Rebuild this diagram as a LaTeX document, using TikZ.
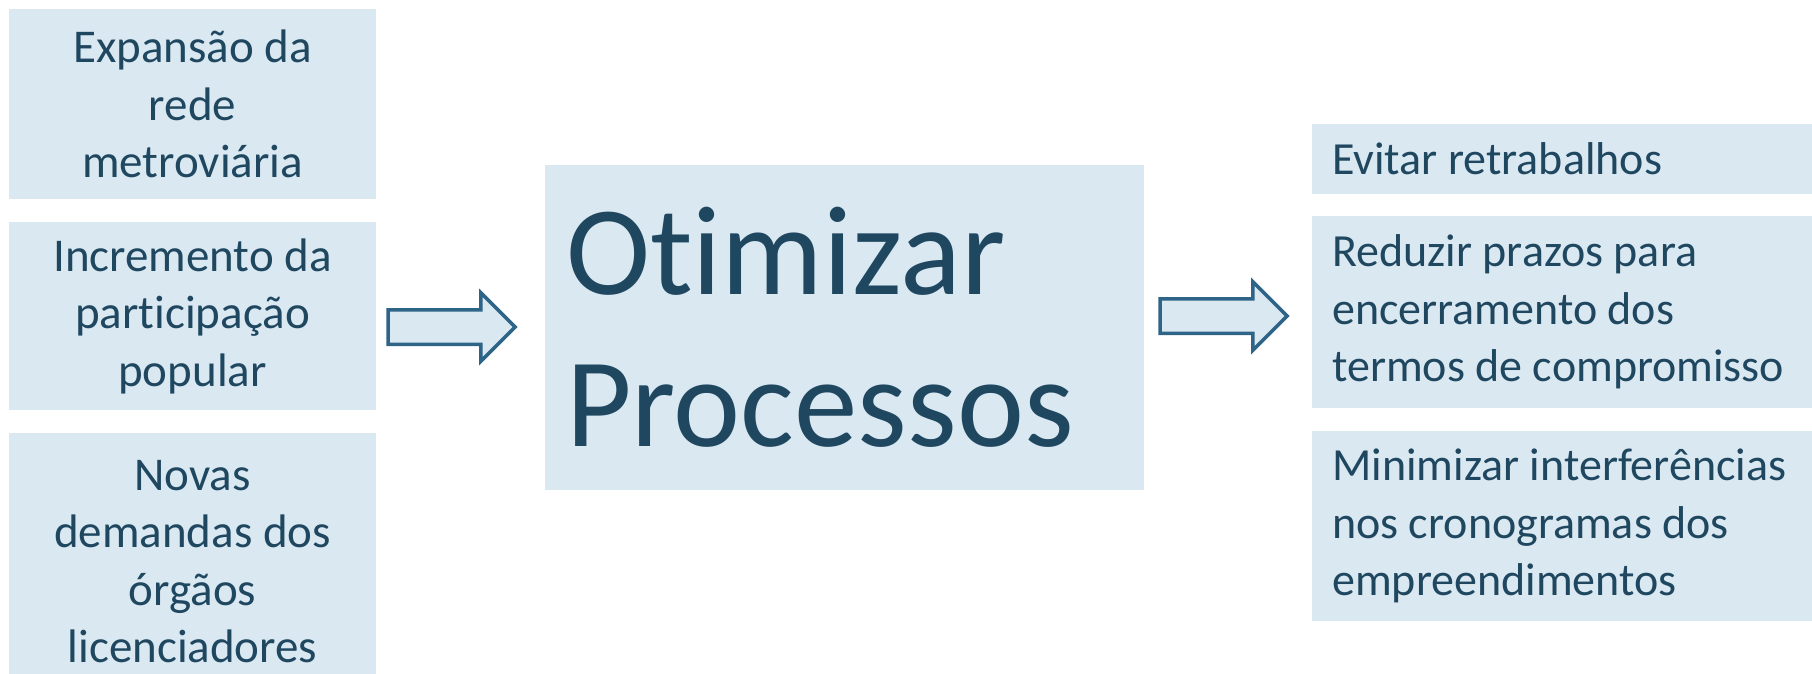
\documentclass[tikz,border=0pt]{standalone}
\usepackage{fontspec}
\setmainfont{Carlito}[Ligatures=NoCommon]
\usetikzlibrary{shapes.arrows}
\definecolor{boxfill}{RGB}{218,232,241}
\definecolor{boxtext}{RGB}{31,71,96}
\definecolor{arrowline}{RGB}{46,100,135}

\begin{document}
\begin{tikzpicture}[x=1pt,y=-1pt,
                cause node/.style={rectangle,fill=boxfill,text=boxtext,minimum width=367pt,align=center,inner sep=0pt,font=\fontsize{47}{57.5}\selectfont},
                main node/.style={rectangle,fill=boxfill,text=boxtext,minimum width=599pt,minimum height=325pt,text width=557pt,align=flush left,inner xsep=21pt,inner ysep=0pt,font=\fontsize{127}{152}\selectfont},
                goal node/.style={rectangle,fill=boxfill,text=boxtext,anchor=west,text width=490pt,align=flush left,inner xsep=20pt,inner ysep=0pt,font=\fontsize{46}{57.5}\selectfont},
                block arrow/.style={single arrow,draw=arrowline,line width=3.5pt,fill=boxfill,minimum height=127pt,single arrow head extend=17pt,inner xsep=0pt,inner ysep=15.5pt},
                ]
                \path[use as bounding box,clip] (0,0) rectangle (1812,674);
                \node[cause node, minimum height=190pt] (expansao) at (192.5,104) {Expansão da\\rede\\metroviária};
                \node[cause node, minimum height=188pt] (incremento) at (192.5,316) {Incremento da\\participação\\popular};
                \node[cause node, minimum height=257pt] (demandas) at (192.5,561.5) {Novas\\demandas dos\\órgãos\\licenciadores};

                \node[main node] (otimizar) at (844.5,327.5) {Otimizar\\Processos};

                \node[goal node, minimum height=70pt] (evitar) at (1312,159) {Evitar retrabalhos};
                \node[goal node, minimum height=192pt] (reduzir) at (1312,312) {Reduzir prazos para\\encerramento dos\\termos de compromisso};
                \node[goal node, minimum height=190pt] (minimizar) at (1312,526) {Minimizar interferências\\nos cronogramas dos\\empreendimentos};

                \node[block arrow] (arrowin) at (443,327) {};
                \node[block arrow] (arrowout) at (1215,316) {};
\end{tikzpicture}
\end{document}
